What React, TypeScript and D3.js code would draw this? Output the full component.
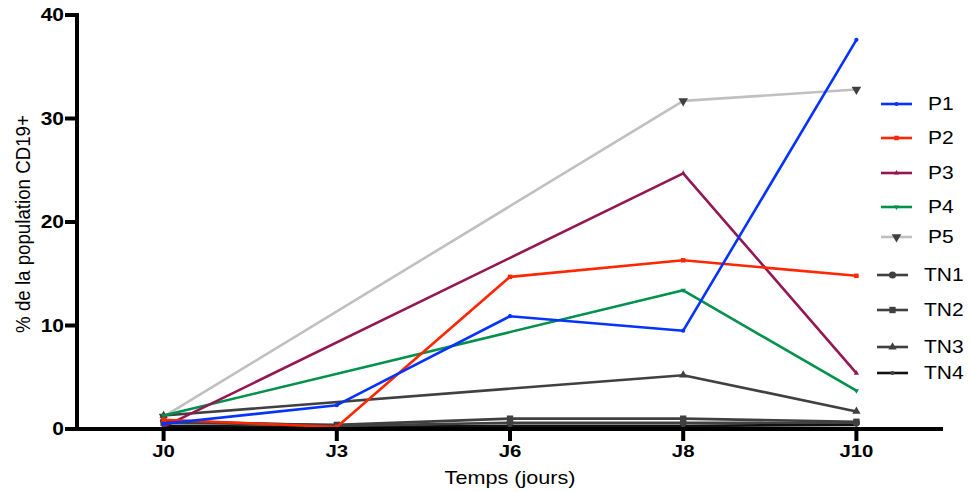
import React, { useEffect, useRef } from "react";
import * as d3 from "d3";

const categories = ["J0", "J3", "J6", "J8", "J10"];
const yTicks = [0, 10, 20, 30, 40];

const seriesNames = ["P1", "P2", "P3", "P4", "P5", "TN1", "TN2", "TN3", "TN4"];
const P1 = [0.5, 2.3, 10.9, 9.5, 37.6];
const P2 = [0.9, 0.2, 14.7, 16.3, 14.8];
const P3 = [0.2, null, null, 24.7, 5.4];
const P4 = [1.3, null, null, 13.4, 3.7];
const P5 = [1.2, null, null, 31.7, 32.8];
const TN1 = [0.8, 0.3, 0.6, 0.6, 0.6];
const TN2 = [0.6, 0.4, 1.0, 1.0, 0.7];
const TN3 = [1.3, null, null, 5.2, 1.7];
const TN4 = [0.3, 0.2, 0.3, 0.3, 0.4];
const seriesValues: (number | null)[][] = [P1, P2, P3, P4, P5, TN1, TN2, TN3, TN4];

const lineColors = ["#0433FF", "#FF2600", "#941751", "#00914B", "#C0C0C0", "#404040", "#404040", "#404040", "#111111"];
const markerColors = ["#0433FF", "#FF2600", "#941751", "#00914B", "#404040", "#404040", "#404040", "#404040", "#404040"];
const markerShapes = ["circle", "square", "triangle", "triangleDown", "triangleDown", "circle", "square", "triangle", "circle"];
const markerSizes = [14, 20, 12, 12, 40, 40, 40, 30, 14];

const legendY = [104, 138, 173, 207, 237, 275, 310, 347, 373];

const W = 970, H = 492;
const FONT = "'Liberation Sans', Arial, Helvetica, sans-serif";
const STRETCH = 1.2;

function symbolFor(shape: string) {
  if (shape === "square") return d3.symbolSquare;
  if (shape === "triangle") return d3.symbolTriangle;
  if (shape === "triangleDown") return d3.symbolTriangle;
  return d3.symbolCircle;
}

export default function App() {
  const ref = useRef<SVGSVGElement>(null);
  useEffect(() => {
    const svg = d3.select(ref.current);
    svg.selectAll("*").remove();

    const x = d3.scalePoint<string>().domain(categories).range([77, 943]).padding(0.5);
    const y = d3.scaleLinear().domain([0, 40]).range([429, 15]);

    const txt = (g: any, tx: number, ty: number, s: string, size: number, anchor: string, bold = false) =>
      g.append("text").attr("transform", `translate(${tx},${ty}) scale(${STRETCH},1)`)
        .attr("text-anchor", anchor).attr("font-family", FONT)
        .attr("font-weight", bold ? "bold" : "normal").attr("font-size", size).text(s);

    // series
    const order = [8, 7, 6, 5, 4, 3, 2, 1, 0];
    const line = d3.line<[string, number]>().x(d => x(d[0])!).y(d => y(d[1]));
    order.forEach(i => {
      const pts: [string, number][] = [];
      seriesValues[i].forEach((v, k) => { if (v !== null) pts.push([categories[k], v]); });
      const g = svg.append("g");
      g.append("path").attr("d", line(pts)!).attr("fill", "none")
        .attr("stroke", lineColors[i]).attr("stroke-width", 2.6).attr("stroke-linejoin", "round");
      const sym = d3.symbol().type(symbolFor(markerShapes[i])).size(markerSizes[i]);
      g.selectAll("path.m").data(pts).enter().append("path").attr("class", "m")
        .attr("d", sym()!)
        .attr("transform", d => `translate(${x(d[0])},${y(d[1])})${markerShapes[i] === "triangleDown" ? " rotate(180)" : ""}`)
        .attr("fill", markerColors[i]);
    });

    // axes
    const ax = svg.append("g");
    ax.append("line").attr("x1", 77).attr("x2", 77).attr("y1", 13).attr("y2", 431)
      .attr("stroke", "#000").attr("stroke-width", 4);
    ax.append("line").attr("x1", 75).attr("x2", 943).attr("y1", 429).attr("y2", 429)
      .attr("stroke", "#000").attr("stroke-width", 4);
    yTicks.forEach(t => {
      ax.append("line").attr("x1", 65).attr("x2", 77).attr("y1", y(t)).attr("y2", y(t))
        .attr("stroke", "#000").attr("stroke-width", 4);
      txt(ax, 64, y(t) + 6.3, String(t), 17.5, "end", true);
    });
    categories.forEach(c => {
      ax.append("line").attr("x1", x(c)!).attr("x2", x(c)!).attr("y1", 429).attr("y2", 441)
        .attr("stroke", "#000").attr("stroke-width", 4);
      txt(ax, x(c)!, 457, c, 17, "middle", true);
    });
    txt(ax, 510, 484, "Temps (jours)", 18, "middle");
    ax.append("text").attr("transform", "translate(30,224) rotate(-90) scale(1.04,1.15)").attr("text-anchor", "middle")
      .attr("font-family", FONT).attr("font-size", 18).text("% de la population CD19+");

    // legend
    seriesNames.forEach((n, i) => {
      const isTN = i >= 5;
      const x1 = isTN ? 877 : 881, x2 = isTN ? 908 : 912;
      const ly = legendY[i];
      const g = svg.append("g");
      g.append("line").attr("x1", x1).attr("x2", x2).attr("y1", ly).attr("y2", ly)
        .attr("stroke", lineColors[i]).attr("stroke-width", 2.6);
      const sym = d3.symbol().type(symbolFor(markerShapes[i])).size(markerSizes[i]);
      g.append("path").attr("d", sym()!)
        .attr("transform", `translate(${(x1 + x2) / 2},${ly})${markerShapes[i] === "triangleDown" ? " rotate(180)" : ""}`)
        .attr("fill", markerColors[i]);
      txt(g, isTN ? 924 : 928, ly + 6.3, n, 17.5, "start");
    });
  }, []);

  return (
    <div style={{ position: "absolute", left: 0, top: 0 }}>
      <svg ref={ref} width={W} height={H} style={{ display: "block", background: "#fff" }} />
    </div>
  );
}
